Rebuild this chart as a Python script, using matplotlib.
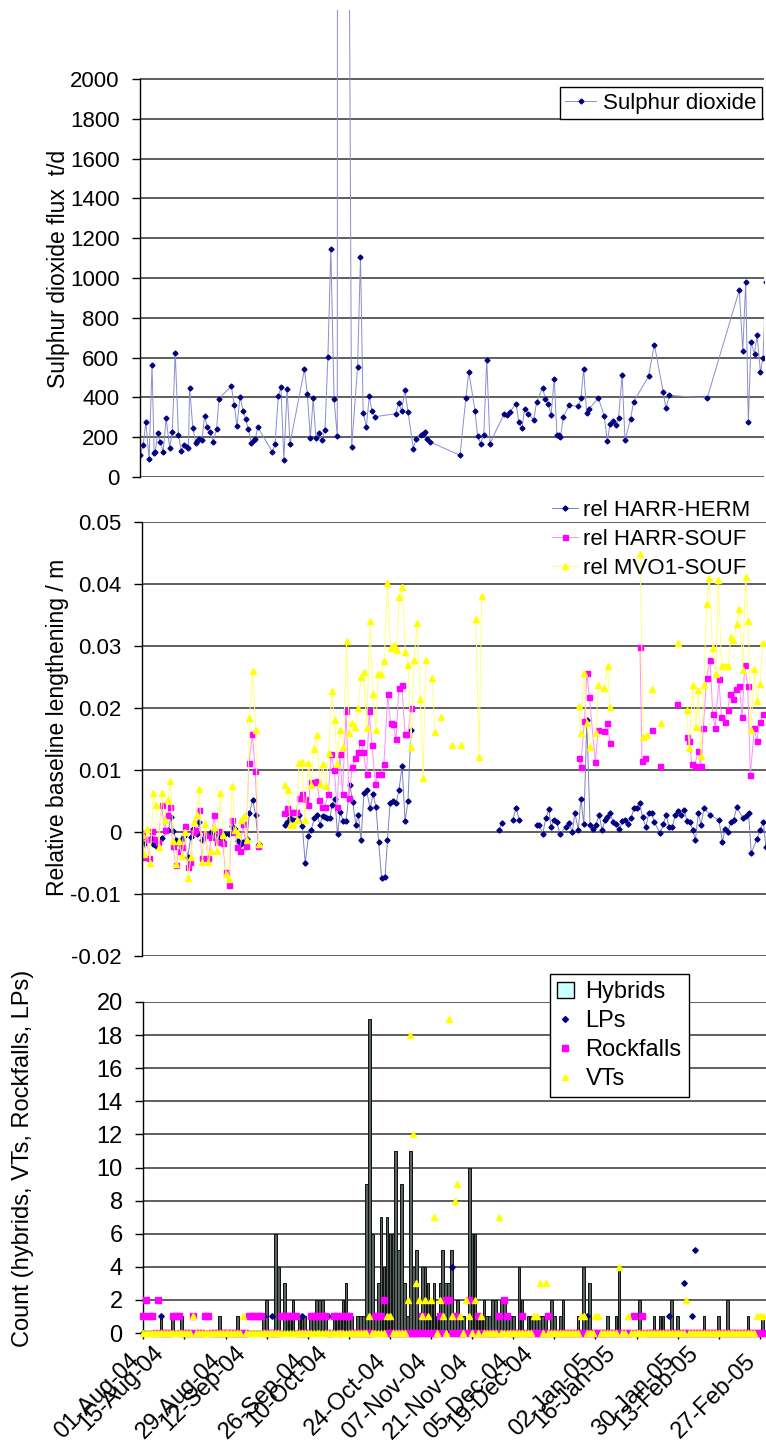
import numpy as np
import matplotlib
matplotlib.use('Agg')
import matplotlib.pyplot as plt
import matplotlib.dates as mdates
from matplotlib.patches import Patch
from matplotlib.lines import Line2D
from matplotlib.transforms import ScaledTranslation
from datetime import datetime

plt.rcParams['font.family'] = ['Liberation Sans', 'DejaVu Sans']

nan = np.nan

# ---- sulphur dioxide flux (days after 01-Aug-04, t/d) ----
so2_day = [0.0, 1.1, 2.0, 3.1, 4.1, 4.8, 5.2, 6.0, 6.9, 7.9,
           8.9, 10.1, 11.0, 12.0, 13.1, 14.1, 15.0, 15.9, 16.5, 16.9,
           18.0, 19.0, 19.5, 20.2, 21.1, 22.0, 22.9, 24.0, 24.9, 26.1,
           26.9, 31.1, 32.1, 33.0, 34.1, 35.1, 36.0, 36.9, 37.9, 38.7,
           39.3, 40.1, 45.1, 46.0, 47.1, 48.0, 49.0, 50.1, 51.1, 56.0,
           57.0, 58.0, 59.0, 59.9, 61.0, 62.0, 63.0, 64.0, 65.0, 66.1,
           67.2, 67.25, 71.0, 72.1, 74.1, 75.1, 76.0, 77.1, 78.1, 79.0,
           80.1, 87.1, 88.1, 89.1, 90.2, 91.3, 93.1, 94.0, 95.6, 96.5,
           97.1, 97.9, 98.8, 109.0, 111.0, 112.0, 114.1, 115.0, 116.0, 117.1,
           118.1, 119.2, 124.0, 124.9, 126.0, 128.1, 129.0, 130.1, 131.0, 132.2,
           134.1, 135.1, 137.1, 138.1, 139.1, 140.0, 141.1, 142.0, 142.6, 143.2,
           144.2, 146.1, 149.3, 150.2, 151.1, 152.1, 153.0, 156.1, 158.1, 159.2,
           160.1, 161.0, 162.1, 163.0, 164.2, 165.2, 167.1, 168.1, 173.2, 175.2,
           178.2, 179.1, 180.3, 193.2, 204.1, 205.3, 206.3, 207.2, 208.1, 209.3,
           210.2, 211.3, 212.2, 213.2]
so2_flux = [109, 162, 276, 89, 564, 122, 126, 223, 176, 126,
            296, 146, 226, 623, 209, 132, 162, 151, 146, 447,
            246, 172, 181, 189, 184, 307, 251, 226, 176, 240,
            394, 457, 363, 256, 404, 332, 291, 241, 172, 184,
            193, 251, 126, 168, 405, 452, 87, 440, 168, 541,
            419, 196, 395, 196, 221, 188, 235, 603, 1144, 390,
            204, 4000, 3500, 151, 553, 1106, 323, 253, 407, 330,
            303, 318, 372, 332, 439, 325, 142, 193, 209, 218,
            226, 193, 176, 109, 399, 529, 332, 204, 168, 213,
            590, 168, 318, 313, 327, 369, 276, 246, 343, 318,
            288, 377, 449, 390, 369, 313, 494, 213, 209, 201,
            301, 360, 355, 397, 544, 323, 343, 397, 308, 179,
            268, 281, 260, 298, 511, 184, 293, 377, 506, 665,
            427, 345, 410, 397, 938, 633, 980, 276, 678, 620,
            713, 528, 600, 980]

# ---- relative baseline lengthening (m), nan = gap in the line ----
herm = [(0, -0.0003), (0.9, -0.002), (1.8, -0.0012), (3.1, -0.001), (4.0, -0.002), (4.9, -0.0022),
        (6.0, -0.0013), (7.0, -0.001), (9.1, 0.0003), (9.9, 0.0024), (10.8, 0.0002), (11.7, -0.0013),
        (12.7, -0.0019), (13.6, -0.0011), (14.4, -0.0007), (15.7, -0.004), (16.7, -0.0008), (17.6, 0.0005),
        (18.7, -0.0003), (19.6, 0.0016), (20.5, -0.0013), (21.6, -0.0008), (22.7, -0.0005), (23.7, 0),
        (24.6, -0.0005), (25.5, -0.0009), (26.4, -0.0003), (27.4, -0.0013), (28.5, -0.0003), (29.9, -0.0003),
        (30.6, 0.0009), (31.8, 0.0005), (32.7, -0.0015), (33.7, -0.0019), (34.6, -0.0016), (35.8, -0.0011),
        (36.7, 0.003), (37.8, 0.0052), (38.8, 0.0027), (39.8, -0.0019), (44, nan),
        (48.8, 0.0011), (49.6, 0.0016), (50.5, 0.0022), (51.4, 0.002), (52.6, 0.002), (53.6, 0.0027),
        (54.7, 0.001), (55.7, -0.005), (56.8, -0.0007), (57.8, 0.0004), (58.8, 0.0023), (59.8, 0.0027),
        (60.7, 0.0012), (61.6, 0.0025), (62.4, 0.0024), (63.2, 0.0023), (64.1, 0.0022), (64.8, 0.0043),
        (65.8, 0.0054), (66.7, -0.0004), (67.6, 0.0032), (68.7, 0.0017), (69.6, 0.0017), (70.9, 0.0075),
        (71.9, 0.0048), (72.9, 0.0012), (73.8, 0.0028), (74.7, -0.0013), (75.7, 0.0063), (76.6, 0.0067),
        (77.8, 0.0038), (78.8, 0.0061), (79.8, 0.004), (80.7, -0.0016), (81.7, -0.0075), (82.9, -0.0072),
        (83.7, -0.0013), (84.6, 0.0047), (85.7, 0.005), (86.6, 0.0046), (87.6, 0.0067), (88.7, 0.0106),
        (89.7, 0.0018), (90.7, 0.005), (91.7, 0.0164), (100, nan),
        (121.8, 0.0004), (122.6, 0.0015), (124.5, nan), (126.4, 0.002), (127.5, 0.0039), (128.6, 0.002),
        (131, nan), (134.5, 0.0011), (135.4, 0.0011), (136.6, -0.0003), (137.6, 0.0022), (138.7, 0.0037),
        (139.4, 0.0008), (140.4, 0.002), (141.3, 0.0016), (142.5, -0.0003), (144.5, 0.0008), (145.4, 0.0015),
        (146.7, 0), (147.5, 0.0031), (148.7, 0.0004), (149.6, 0.0053), (150.6, 0.0013), (151.6, 0.018),
        (152.7, 0.0012), (153.7, 0.0005), (154.7, 0.0011), (155.8, 0.0028), (156.8, 0.0003), (157.8, 0.0019),
        (158.6, 0.0024), (159.5, 0.0031), (160.6, 0.0016), (161.6, 0.0013), (162.7, 0.0005), (163.7, 0.0018),
        (164.7, 0.002), (165.8, 0.0013), (166.7, 0.0023), (167.7, 0.0039), (168.6, 0.0038), (169.6, 0.0047),
        (170.6, 0.0024), (171.7, 0.0008), (172.7, 0.003), (173.7, 0.003), (174.6, 0.0016), (176.6, -0.0002),
        (177.7, 0.0013), (178.6, 0.0028), (179.6, 0.0008), (180.7, 0.0008), (181.8, 0.0028), (182.7, 0.0034),
        (183.8, 0.0027), (184.8, 0.0036), (185.7, 0.0018), (186.8, 0.0016), (187.7, 0.0003), (188.6, -0.0013),
        (189.6, 0.0031), (190.5, 0.0011), (191.5, 0.0038), (193.6, 0.0028), (196.6, 0.0019), (197.8, -0.0016),
        (198.7, 0.0005), (199.7, 0), (200.6, 0.0016), (201.6, 0.002), (202.7, 0.004), (204.7, 0.0023),
        (205.7, 0.0025), (206.7, 0.0031), (207.6, -0.0034), (209.6, -0.0011), (210.7, 0.0004), (211.7, 0.0016),
        (212.6, -0.0024)]

souf = [(0, -0.0002), (0.6, -0.004), (1.7, -0.0011), (2.6, -0.0042), (3.5, 0.0002), (4.7, -0.0011),
        (5.7, -0.0016), (6.8, 0.0043), (7.8, 0.0003), (8.7, 0.0027), (9.6, 0.004), (10.6, -0.0022),
        (11.7, -0.0054), (12.6, -0.003), (13.6, -0.0024), (14.6, 0.001), (15.6, -0.0056), (16.5, -0.0048),
        (17.4, 0), (18.3, 0.0003), (19.6, 0.0036), (20.5, -0.0042), (21.6, -0.0005), (22.7, -0.0042),
        (23.7, -0.0008), (24.7, 0.0027), (25.5, -0.0016), (26.4, 0.0002), (27.6, -0.0018), (28.6, -0.0065),
        (29.7, -0.0086), (30.6, 0.0019), (31.6, 0), (32.6, -0.0024), (33.5, -0.003), (34.5, 0.0013),
        (35.5, -0.0022), (36.5, 0.0111), (37.7, 0.0158), (38.7, 0.0098), (39.7, -0.0023), (44, nan),
        (48.6, 0.0031), (49.6, 0.0038), (50.5, 0.0032), (51.4, 0.0032), (52.6, 0.0032), (53.6, 0.0055),
        (54.6, 0.0062), (55.6, 0.0054), (56.8, 0.0043), (57.5, 0.0081), (58.7, 0.0081), (59.6, 0.0082),
        (60.5, 0.0052), (61.3, 0.004), (62.4, 0.0041), (63.6, 0.0062), (64.5, 0.0125), (65.6, 0.01),
        (66.5, 0.0041), (67.5, 0.0125), (68.4, 0.0062), (69.6, 0.0195), (70.6, 0.0055), (71.7, 0.0105),
        (72.6, 0.0119), (73.8, 0.0129), (74.6, 0.0145), (75.5, 0.0129), (76.6, 0.0094), (77.5, 0.0195),
        (78.4, 0.0141), (79.6, 0.0078), (80.6, 0.0094), (81.5, 0.0094), (82.5, 0.011), (83.8, 0.0222),
        (84.8, 0.0175), (85.7, 0.0174), (86.6, 0.015), (87.6, 0.0232), (88.6, 0.0237), (89.7, 0.0158),
        (90.7, 0.0158), (91.7, 0.02), (120, nan),
        (148.8, 0.0119), (149.5, 0.0105), (150.8, 0.0179), (151.6, 0.0256), (152.5, 0.0217), (154.5, 0.0113),
        (155.5, 0.0165), (157.5, 0.0163), (158.6, 0.0175), (159.5, 0.0143), (165, nan), (169.7, 0.0298),
        (170.4, 0.0115), (171.5, 0.0119), (172.5, nan), (173.7, 0.0164), (175, nan), (176.5, 0.0106),
        (179, nan), (182.4, 0.0206), (184, nan), (185.6, 0.0153), (186.5, 0.0147), (187.4, 0.011),
        (188.3, 0.0106), (189.5, 0.0131), (190.4, 0.0106), (191.3, 0.0168), (192.4, 0.0249), (193.6, 0.0278),
        (194.5, 0.019), (195.3, 0.0168), (196.6, 0.0247), (197.4, 0.0185), (198.7, 0.0178), (199.6, 0.0197),
        (200.4, 0.0222), (201.5, 0.0215), (202.4, 0.023), (203.6, 0.0235), (204.5, 0.0185), (205.4, 0.0269),
        (206.4, 0.0236), (207.3, 0.0092), (208.7, 0.0168), (209.5, 0.0147), (210.6, 0.0178), (211.7, 0.019)]

mvo = [(0, -0.0003), (0.9, -0.0035), (1.8, 0.0005), (2.8, -0.005), (4.0, 0.0063), (4.9, 0.0043),
       (5.9, -0.0024), (6.9, 0.0063), (7.8, 0.002), (8.9, 0.0051), (9.8, 0.0083), (10.8, -0.0015),
       (11.7, -0.0051), (12.7, -0.0015), (13.7, -0.0038), (14.8, 0), (15.9, -0.0075), (16.7, -0.004),
       (17.8, 0.0016), (18.7, 0.0027), (19.6, 0.007), (20.7, -0.0048), (21.7, 0.0013), (22.7, -0.0049),
       (23.7, -0.003), (24.7, 0.0008), (25.8, -0.003), (26.8, 0.0063), (27.8, -0.0005), (28.7, -0.0067),
       (29.7, -0.0076), (30.8, 0.0074), (31.9, 0.0003), (32.8, -0.0003), (33.7, 0.0019), (34.7, 0.0025),
       (35.8, -0.0013), (36.7, 0.0184), (37.8, 0.0259), (38.8, 0.0164), (39.8, -0.0019), (44, nan),
       (48.8, 0.0075), (49.7, 0.0068), (50.6, 0.0012), (51.6, 0.0012), (52.9, 0.002), (53.6, 0.0111),
       (54.6, 0.0113), (55.6, 0.0019), (56.8, 0.0111), (57.7, 0.0075), (58.7, 0.0134), (59.6, 0.0156),
       (60.7, 0.0077), (61.6, 0.011), (62.7, 0.0074), (63.7, 0.0127), (64.7, 0.0227), (65.7, 0.018),
       (66.6, 0.0109), (67.5, 0.0165), (68.7, 0.0137), (69.8, 0.0308), (70.7, 0.016), (71.7, 0.0175),
       (72.8, 0.0169), (73.7, 0.02), (74.7, 0.025), (75.7, 0.0258), (76.6, 0.0167), (77.8, 0.034),
       (78.7, 0.0222), (79.7, 0.0164), (80.6, 0.0255), (81.6, 0.0255), (82.6, 0.0275), (83.7, 0.0402),
       (84.8, 0.0297), (85.8, 0.0302), (86.8, 0.0293), (87.7, 0.0379), (88.8, 0.0395), (89.8, 0.0291),
       (90.8, 0.027), (91.7, 0.0137), (92.8, 0.0278), (93.8, 0.0337), (94.9, 0.0215), (95.8, 0.0087),
       (96.8, 0.0278), (97.8, nan), (98.9, 0.0249), (99.9, 0.0162), (100.8, nan), (101.8, 0.0185),
       (103, nan), (105.7, 0.0141), (107, nan), (108.8, 0.0141), (111, nan), (113.8, 0.0344),
       (114.9, 0.0121), (115.8, 0.038), (130, nan),
       (148.8, 0.0203), (149.5, 0.016), (150.6, 0.0256), (151.6, 0.0176), (152.7, 0.0137), (154.7, 0.016),
       (155.5, 0.0237), (157.5, 0.0233), (158.7, 0.0267), (159.5, 0.0201), (165, nan), (169.7, 0.0448),
       (170.9, 0.0153), (172.0, 0.0156), (173, nan), (173.8, 0.0231), (175, nan), (176.8, 0.0176),
       (180, nan), (182.6, 0.0305), (184, nan), (185.6, 0.0196), (186.5, 0.0135), (187.7, 0.0237),
       (188.7, 0.0169), (189.6, 0.0229), (190.5, 0.0122), (191.5, 0.0237), (192.4, 0.0367), (193.3, 0.0409),
       (194.5, 0.0296), (195.6, 0.0255), (196.4, 0.0406), (197.5, 0.0267), (198.7, 0.0267), (199.8, 0.0268),
       (200.6, 0.0315), (201.5, 0.031), (202.7, 0.0335), (203.6, 0.0359), (204.7, 0.0262), (205.7, 0.0411),
       (206.6, 0.0341), (207.5, 0.0164), (208.7, 0.0263), (209.5, 0.0211), (210.6, 0.0238), (211.5, 0.0305)]

# ---- daily seismic counts: (day, count) for non-zero days, every other day is 0 ----
n_days = 212
hybrids = [(6, 1), (10, 1), (13, 1), (26, 1), (32, 1), (41, 1), (42, 2), (45, 6), (46, 4), (48, 3),
           (49, 1), (50, 1), (51, 2), (53, 1), (54, 1), (55, 1), (57, 1), (58, 1), (59, 2), (60, 2),
           (61, 2), (62, 1), (65, 1), (66, 1), (67, 1), (68, 2), (69, 3), (70, 1), (71, 1), (73, 1),
           (74, 1), (75, 1), (76, 9), (77, 19), (78, 6), (79, 1), (80, 3), (81, 7), (82, 4), (83, 7),
           (84, 6), (85, 6), (86, 11), (87, 5), (88, 9), (89, 3), (90, 1), (91, 11), (92, 4), (93, 5),
           (94, 1), (95, 4), (96, 4), (97, 3), (98, 2), (99, 3), (100, 1), (101, 3), (102, 5), (103, 3),
           (104, 3), (105, 5), (106, 1), (107, 2), (108, 1), (109, 1), (111, 10), (112, 6), (113, 6), (114, 1),
           (115, 1), (116, 2), (117, 1), (118, 1), (119, 2), (120, 2), (121, 1), (122, 2), (123, 2), (124, 1),
           (125, 1), (126, 1), (128, 4), (129, 2), (131, 1), (132, 1), (133, 1), (134, 1), (135, 1), (136, 1),
           (137, 1), (139, 2), (140, 1), (142, 1), (143, 2), (148, 1), (150, 4), (151, 1), (152, 3), (158, 1),
           (161, 1), (162, 4), (169, 2), (174, 1), (176, 1), (177, 1), (180, 2), (182, 1), (191, 1), (196, 1),
           (199, 2), (206, 1), (211, 1)]
lps = [(6, 1), (41, 1), (44, 1), (54, 1), (63, 1), (67, 1), (105, 4), (151, 1), (179, 1), (184, 3),
       (187, 1), (188, 5)]
rockfalls = [(0, 1), (1, 2), (2, 1), (3, 1), (5, 2), (10, 1), (11, 1), (12, 1), (17, 1), (21, 1),
             (22, 1), (36, 1), (37, 1), (38, 1), (39, 1), (40, 1), (47, 1), (48, 1), (49, 1), (50, 1),
             (51, 1), (52, 1), (57, 1), (58, 1), (59, 1), (60, 1), (61, 1), (62, 1), (65, 1), (66, 1),
             (68, 1), (69, 1), (70, 1), (79, 1), (80, 1), (81, 1), (82, 2), (95, 1), (101, 1), (103, 2),
             (104, 2), (106, 1), (111, 2), (114, 1), (121, 1), (123, 2), (124, 1), (129, 1), (138, 1), (167, 1),
             (170, 1)]
vts = [(17, 1), (34, 1), (77, 1), (83, 1), (84, 1), (90, 2), (91, 18), (92, 12), (93, 3), (94, 2),
       (95, 1), (96, 2), (97, 1), (98, 2), (99, 7), (101, 2), (102, 1), (104, 19), (105, 1), (106, 8),
       (107, 9), (108, 1), (110, 2), (111, 1), (113, 2), (115, 1), (121, 7), (133, 1), (134, 1), (135, 3),
       (137, 3), (149, 1), (150, 1), (154, 1), (155, 1), (162, 4), (165, 1), (185, 2), (209, 1), (210, 1),
       (211, 1)]

tick_dates = ['01-Aug-04', '15-Aug-04', '29-Aug-04', '12-Sep-04', '26-Sep-04', '10-Oct-04', '24-Oct-04',
              '07-Nov-04', '21-Nov-04', '05-Dec-04', '19-Dec-04', '02-Jan-05', '16-Jan-05', '30-Jan-05',
              '13-Feb-05', '27-Feb-05']

# ---------------------------------------------------------------
W, H = 766, 1447
PX_DAY = 2.936
SPAN = 212.5
t0 = mdates.date2num(datetime(2004, 8, 1))


def xd(days):
    return t0 + np.asarray(days, dtype=float)


def daily(events):
    out = np.zeros(n_days)
    for d, c in events:
        out[d] = c
    return out


fig = plt.figure(figsize=(W / 100, H / 100), dpi=100)
ax1 = fig.add_axes([140 / W, 1 - 477 / H, SPAN * PX_DAY / W, 467 / H])
ax2 = fig.add_axes([141.7 / W, 1 - 956 / H, SPAN * PX_DAY / W, 434 / H])
ax3 = fig.add_axes([143.3 / W, 1 - 1333 / H, SPAN * PX_DAY / W, 331 / H])

grid_kw = dict(color='#333333', linewidth=1.1)
for ax in (ax1, ax2, ax3):
    ax.set_xlim(t0, t0 + SPAN)
    for s in ('top', 'right', 'bottom'):
        ax.spines[s].set_visible(False)
    ax.spines['left'].set_linewidth(1.0)
    ax.yaxis.grid(True, **grid_kw)
    ax.set_axisbelow(True)
    ax.tick_params(axis='y', direction='out', length=5.8, width=1, pad=9, labelsize=16)
    ax.tick_params(axis='x', bottom=False, labelbottom=False)

# ---- top: SO2 ----
so2_line, = ax1.plot(xd(so2_day), so2_flux, color='#8c8cd0', lw=0.7, marker='D', ms=2.5,
                     mfc='#000080', mec='#000080', label='Sulphur dioxide')
ax1.set_ylim(0, 2000 * 467 / 398)
ax1.set_yticks(np.arange(0, 2001, 200))
ax1.spines['left'].set_bounds(0, 2000)
leg1 = ax1.legend(handles=[so2_line], loc='upper right', bbox_to_anchor=(762 / W, 1 - 87 / H),
                  bbox_transform=fig.transFigure, fontsize=16, frameon=True, fancybox=False,
                  edgecolor='black', framealpha=1, handlelength=1.4, handletextpad=0.3,
                  borderpad=0.25, borderaxespad=0, numpoints=1)
leg1.get_frame().set_linewidth(1.0)

# ---- middle: baseline lengthening ----
hd, hv = zip(*herm)
sd, sv = zip(*souf)
md, mv = zip(*mvo)
l_herm, = ax2.plot(xd(hd), hv, color='#8080c0', lw=0.7, marker='D', ms=2.6,
                   mfc='#000080', mec='#000080', label='rel HARR-HERM')
l_souf, = ax2.plot(xd(sd), sv, color='#ff8cff', lw=0.7, marker='s', ms=3.6,
                   mfc='#ff00ff', mec='#ff00ff', label='rel HARR-SOUF')
l_mvo, = ax2.plot(xd(md), mv, color='#ffff80', lw=0.7, marker='^', ms=4.3,
                  mfc='#ffff00', mec='#ffff00', label='rel MVO1-SOUF')
ax2.set_ylim(-0.02, 0.05)
ax2.set_yticks(np.arange(-0.02, 0.0501, 0.01))
ax2.set_yticklabels(['-0.02', '-0.01', '0', '0.01', '0.02', '0.03', '0.04', '0.05'])
ax2.legend(handles=[l_herm, l_souf, l_mvo], loc='upper right', bbox_to_anchor=(750 / W, 1 - 500 / H),
           bbox_transform=fig.transFigure, fontsize=16, frameon=False, handlelength=1.2,
           handletextpad=0.2, labelspacing=0.35, borderaxespad=0, borderpad=0, numpoints=1)

# ---- bottom: seismic counts ----
day_idx = np.arange(n_days)
hyb = daily(hybrids)
ax3.bar(xd(day_idx), hyb, width=0.9, color='#56625f', edgecolor='#111111', linewidth=0.7, zorder=2)
ax3.plot(xd(day_idx), daily(lps), ls='none', marker='D', ms=2.8, mfc='#000080', mec='#000080',
         zorder=3, clip_on=False)
ax3.plot(xd(day_idx), daily(rockfalls), ls='none', marker='s', ms=3.7, mfc='#ff00ff', mec='#ff00ff',
         zorder=4, clip_on=False)
ax3.plot(xd(day_idx), daily(vts), ls='none', marker='^', ms=4.5, mfc='#ffff00', mec='#ffff00',
         zorder=5, clip_on=False)
ax3.set_ylim(0, 20)
ax3.set_yticks(np.arange(0, 21, 2))
ax3.tick_params(axis='y', labelsize=17)
ax3.spines['bottom'].set_visible(True)
ax3.spines['bottom'].set_linewidth(1.0)
tick_x = [mdates.date2num(datetime.strptime(s, '%d-%b-%y')) for s in tick_dates]
ax3.set_xticks(tick_x)
ax3.tick_params(axis='x', bottom=True, labelbottom=False, direction='out', length=4, width=1)
# rotated date labels, anchored at the baseline end of the text
for tx, lab in zip(tick_x, tick_dates):
    dx, dy = -3, -29
    if lab.startswith('1'):
        dx, dy = dx - 17, dy + 8
    off = ScaledTranslation(dx / 100, dy / 100, fig.dpi_scale_trans)
    ax3.text(tx, 0, lab, transform=ax3.get_xaxis_transform() + off, rotation=45,
             ha='right', va='baseline', rotation_mode='anchor', fontsize=17)

leg_handles = [Patch(facecolor='#ccffff', edgecolor='black', linewidth=1.0),
               Line2D([], [], ls='none', marker='D', ms=3, mfc='#000080', mec='#000080'),
               Line2D([], [], ls='none', marker='s', ms=4, mfc='#ff00ff', mec='#ff00ff'),
               Line2D([], [], ls='none', marker='^', ms=4.5, mfc='#ffff00', mec='#ffff00')]
leg3 = ax3.legend(leg_handles, ['Hybrids', 'LPs', 'Rockfalls', 'VTs'], loc='upper left',
                  bbox_to_anchor=(550 / W, 1 - 974 / H), bbox_transform=fig.transFigure,
                  fontsize=17, frameon=True, fancybox=False, edgecolor='black', framealpha=1,
                  handlelength=0.7, handleheight=0.7, handletextpad=0.5, labelspacing=0.3,
                  borderpad=0.3, borderaxespad=0)
leg3.get_frame().set_linewidth(1.0)

# ---- axis titles ----
fig.text(58 / W, 1 - 269 / H, 'Sulphur dioxide flux  t/d', rotation=90, ha='center', va='center', fontsize=16.5)
fig.text(58 / W, 1 - 727 / H, 'Relative baseline lengthening / m', rotation=90, ha='center', va='center',
         fontsize=16.5)
fig.text(23 / W, 1 - 1158 / H, 'Count (hybrids, VTs, Rockfalls, LPs)', rotation=90, ha='center',
         va='center', fontsize=17)

fig.savefig('out.png', dpi=100)
